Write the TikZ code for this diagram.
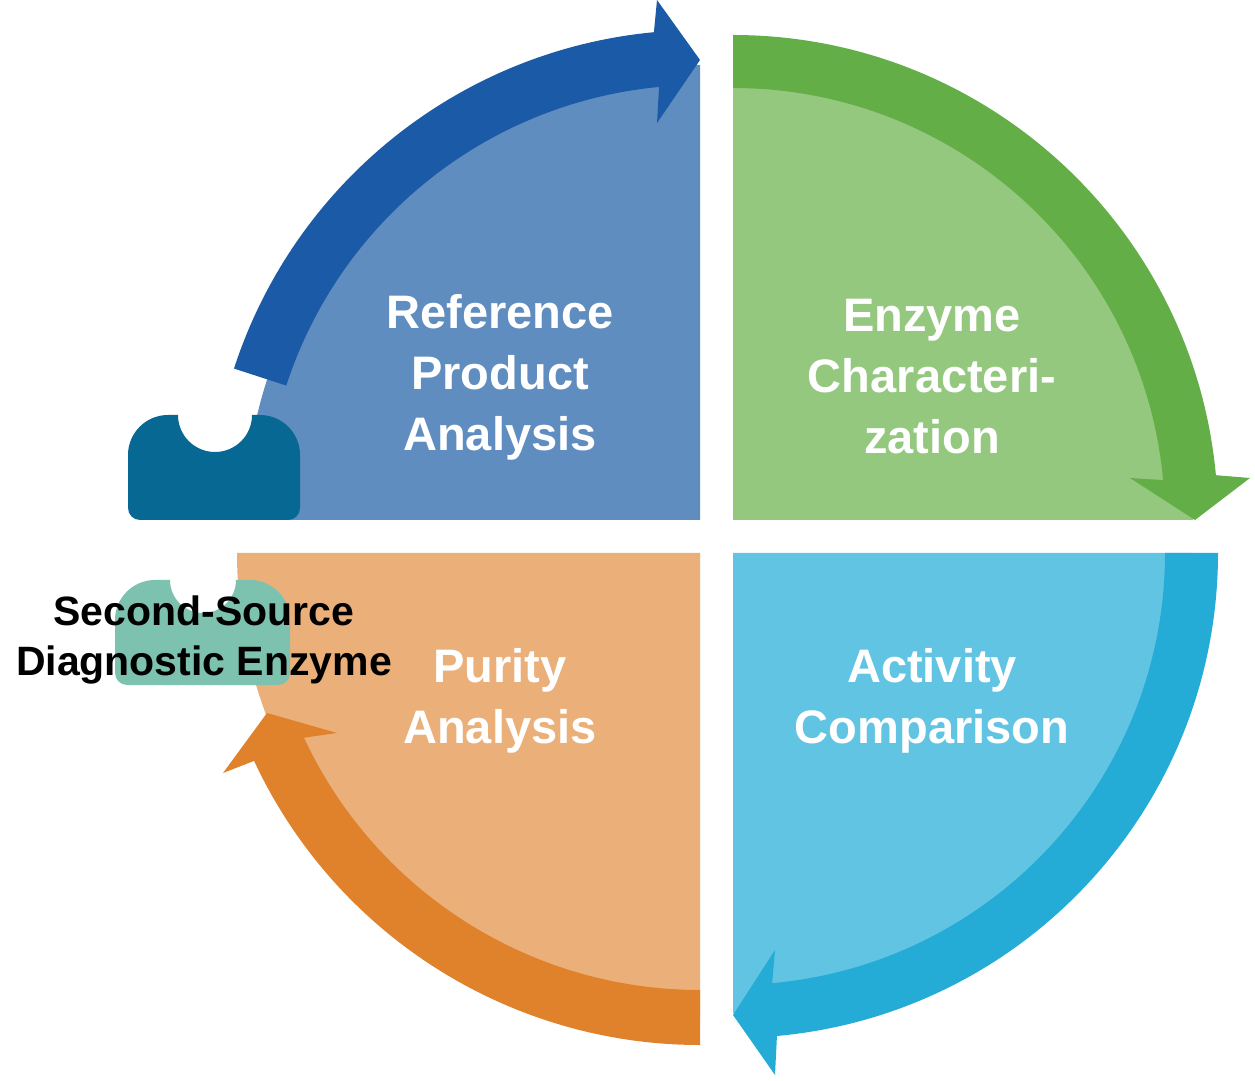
\documentclass[tikz,border=0pt]{standalone}
\usepackage{fontspec}
\setmainfont{Liberation Sans}
\usetikzlibrary{calc}
\definecolor{dblue}{HTML}{1B5AA6}\definecolor{lblue}{HTML}{5F8DBF}
\definecolor{dgreen}{HTML}{64AE47}\definecolor{lgreen}{HTML}{93C87E}
\definecolor{dcyan}{HTML}{24ABD6}\definecolor{lcyan}{HTML}{62C4E3}
\definecolor{dorange}{HTML}{E0812B}\definecolor{lorange}{HTML}{EBAF7A}
\definecolor{pdark}{HTML}{076894}\definecolor{plight}{HTML}{7DC2AE}
\begin{document}
\begin{tikzpicture}[x=1pt,y=1pt,
  lab/.style={text=white,font=\bfseries\fontsize{47}{61}\selectfont,align=center},
  blab/.style={text=black,font=\bfseries\fontsize{41}{50}\selectfont,align=center}]
\useasboundingbox (0,0) rectangle (1255,1080);
\coordinate (cTL) at (700,560);\coordinate (cTR) at (733,560);
\coordinate (cBR) at (733,527);\coordinate (cBL) at (700,527);
% fills
\fill[lblue] (cTL) -- ++(90:455pt) arc[start angle=90,end angle=180,radius=455pt] -- cycle;
\fill[lgreen] (cTR) -- ++(90:460pt) arc[start angle=90,end angle=0,radius=460pt] -- cycle;
\fill[lcyan] (cBR) -- ++(0:460pt) arc[start angle=0,end angle=-90,radius=460pt] -- cycle;
\fill[lorange] (cBL) -- ++(270:463pt) arc[start angle=270,end angle=180,radius=463pt] -- cycle;
% bands
\fill[dblue] ($(cTL)+(162:490pt)$) arc[start angle=162,end angle=95.4,radius=490pt]
  -- (657,1080) -- (700,1020) -- (657,957) -- ($(cTL)+(95.4:435pt)$)
  arc[start angle=95.4,end angle=162,radius=435pt] -- cycle;
\fill[dgreen] ($(cTR)+(90:485pt)$) arc[start angle=90,end angle=5.3,radius=485pt]
  -- (1250,602) -- (1195,560) -- (1130,602) -- ($(cTR)+(5.3:432pt)$)
  arc[start angle=5.3,end angle=90,radius=432pt] -- cycle;
\fill[dcyan] ($(cBR)+(0:485pt)$) arc[start angle=0,end angle=-84.8,radius=485pt]
  -- (775,5) -- (733,65) -- (775,130) -- ($(cBR)+(-84.8:432pt)$)
  arc[start angle=-84.8,end angle=0,radius=432pt] -- cycle;
\fill[dorange] ($(cBL)+(270:492pt)$) arc[start angle=270,end angle=205,radius=492pt]
  -- (223,307) -- (267,367) -- (337,347) -- ($(cBL)+(205:437pt)$)
  arc[start angle=205,end angle=270,radius=437pt] -- cycle;
% puzzle pieces
\fill[pdark] (140,560) -- (288,560) arc[start angle=270,end angle=360,radius=12pt]
  -- (300,625) arc[start angle=0,end angle=90,radius=40pt] -- (252,665)
  arc[start angle=0,end angle=-180,radius=37pt] -- (168,665)
  arc[start angle=90,end angle=180,radius=40pt] -- (128,572)
  arc[start angle=180,end angle=270,radius=12pt] -- cycle;
\fill[plight] (127,395) -- (278,395) arc[start angle=270,end angle=360,radius=12pt]
  -- (290,460) arc[start angle=0,end angle=90,radius=40pt] -- (236,500)
  arc[start angle=0,end angle=-180,radius=33pt] -- (155,500)
  arc[start angle=90,end angle=180,radius=40pt] -- (115,407)
  arc[start angle=180,end angle=270,radius=12pt] -- cycle;
% labels
\node[lab] (t1) at (500,703) {Reference\\Product\\Analysis};
\node[lab] (t2) at (932,703) {Enzyme\\Characteri-\\zation};
\node[lab] (t3) at (500,379) {Purity\\Analysis};
\node[lab] (t4) at (932,379) {Activity\\Comparison};
\node[blab] (t5) at (204,440) {Second-Source\\Diagnostic Enzyme};
\end{tikzpicture}
\end{document}
